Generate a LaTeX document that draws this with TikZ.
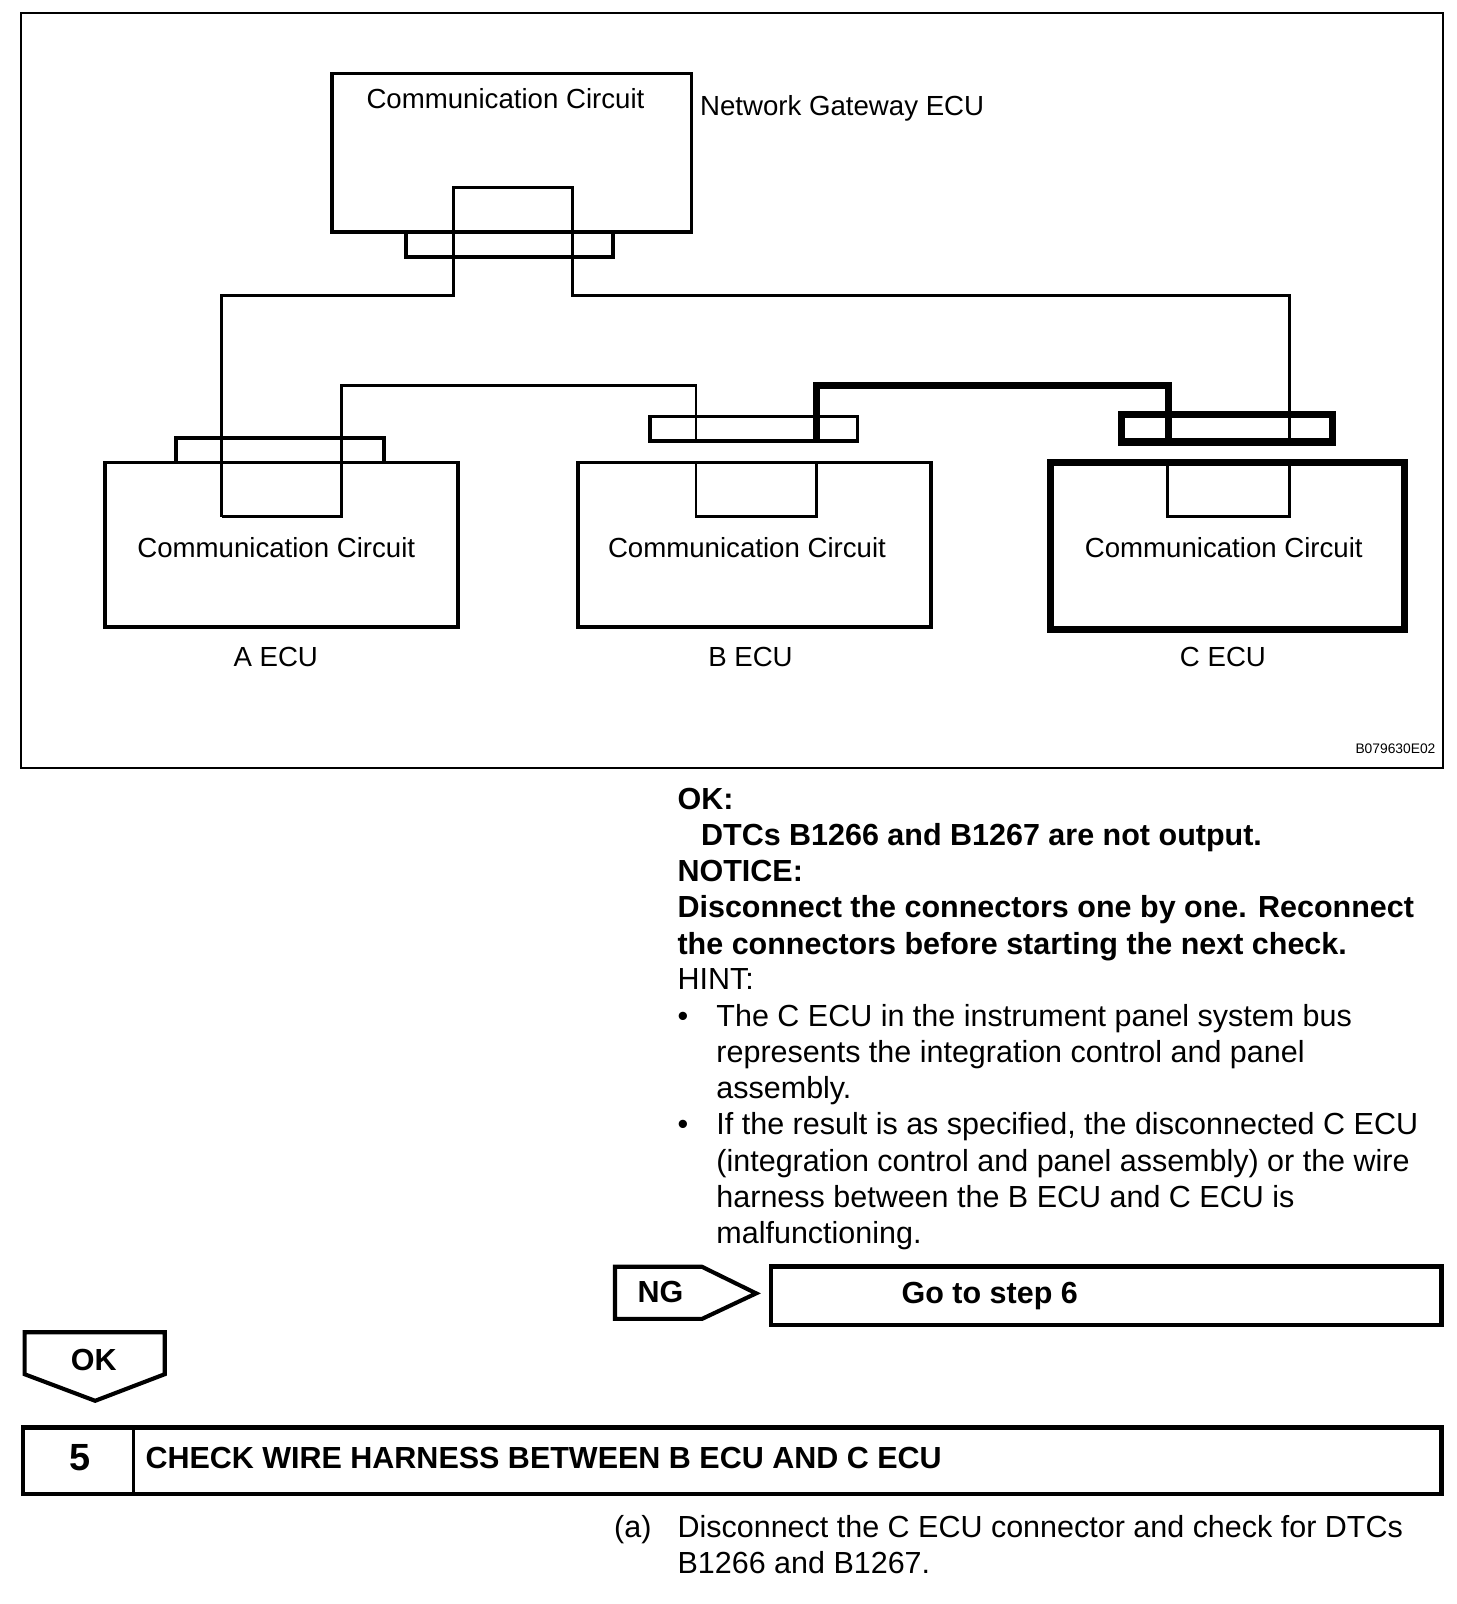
\documentclass[tikz,border=0pt]{standalone}
\usepackage{fontspec}
\setmainfont{Liberation Sans}
\newcommand{\fsz}[1]{\fontsize{#1}{#1}\selectfont}
\tikzset{
  x=1pt,y=-1pt,
  box/.style={draw=black,anchor=north west,inner sep=0pt,outer sep=0pt,line join=miter},
  thinbox/.style={box,line width=3.5pt},
  heavybox/.style={box,line width=7pt},
  wire/.style={draw=black,line width=2.5pt,line join=miter},
  heavywire/.style={draw=black,line width=7pt,line join=miter},
  diag/.style={font=\fsz{27},anchor=base west,inner sep=0pt},
  body/.style={font=\fsz{29.8},anchor=base west,inner sep=0pt},
  bodyb/.style={font=\fsz{29.8}\bfseries,anchor=base west,inner sep=0pt},
  tag/.style={draw=black,line width=4pt,line join=miter}
}
\begin{document}
\begin{tikzpicture}
\useasboundingbox (0,0) rectangle (1423,1567.6);
\fill[white] (0,0) rectangle (1423,1567.6);
% frame
\node[box,line width=2pt,minimum width=1389.5pt,minimum height=738pt] (frame) at (20.5,13) {};
% ECU boxes
\node[thinbox,minimum width=351.5pt,minimum height=155pt] (gw) at (324.5,72) {};
\node[thinbox,minimum width=345pt,minimum height=161pt] (aecu) at (102.5,452) {};
\node[thinbox,minimum width=345pt,minimum height=161pt] (becu) at (565,452) {};
\node[heavybox,minimum width=346pt,minimum height=163pt] (cecu) at (1027,452) {};
% connectors
\node[thinbox,minimum width=202pt,minimum height=24pt] (gwc) at (397,227) {};
\node[thinbox,minimum width=203pt,minimum height=24pt] (ac) at (172,428) {};
\node[thinbox,minimum width=203pt,minimum height=24pt] (bc) at (635,407) {};
\node[heavybox,minimum width=206pt,minimum height=27pt] (cc) at (1096,405) {};
% wire corners
\coordinate (a1) at (216.5,505);
\coordinate (a2) at (333.5,505);
\coordinate (b1) at (680,505);
\coordinate (b2) at (798,505);
\coordinate (c1) at (1141,505);
\coordinate (c2) at (1260,505);
\coordinate (g1) at (443,183);
\coordinate (g2) at (559.5,183);
% wires
\draw[wire] (a1) -- (216.5,289) -- (443,289) -- (g1) -- (g2) -- (559.5,289) -- (1260,289) -- (1260,432);
\draw[wire] (1260,452) -- (c2) -- (c1) -- (1141,452);
\draw[wire] (a1) -- (a2) -- (333.5,377) -- (680,377) -- (680,431);
\draw[wire] (680,452) -- (b1) -- (b2) -- (798,452);
\draw[heavywire] (798,431) -- (798,377) -- (1142,377) -- (1142,432);
% diagram labels
\node[diag] (t1) at (358,106.5) {Communication Circuit};
\node[diag] (t2) at (684,112.5) {Network Gateway ECU};
\node[diag] (t3) at (134,545) {Communication Circuit};
\node[diag] (t4) at (594,545) {Communication Circuit};
\node[diag] (t5) at (1060,545) {Communication Circuit};
\node[diag] (t6) at (228,651) {A ECU};
\node[diag] (t7) at (692,651) {B ECU};
\node[diag] (t8) at (1153,651) {C ECU};
\node[font=\fsz{13.5},anchor=base east,inner sep=0pt] (code) at (1403,736) {B079630E02};
% body text
\node[bodyb] (l1) at (662,791) {OK:};
\node[bodyb] (l2) at (685,826) {DTCs B1266 and B1267 are not output.};
\node[bodyb] (l3) at (662,861) {NOTICE:};
\node[bodyb] (l4) at (662,897) {Disconnect the connectors one by one. Reconnect};
\node[bodyb] (l5) at (662,932.5) {the connectors before starting the next check.};
\node[body] (l6) at (662,967.5) {HINT:};
\node[body] (b1t) at (662,1003) {•};
\node[body] (l7) at (700,1003) {The C ECU in the instrument panel system bus};
\node[body] (l8) at (700,1038) {represents the integration control and panel};
\node[body] (l9) at (700,1074) {assembly.};
\node[body] (b2t) at (662,1109) {•};
\node[body] (l10) at (700,1109) {If the result is as specified, the disconnected C ECU};
\node[body] (l11) at (700,1144.5) {(integration control and panel assembly) or the wire};
\node[body] (l12) at (700,1180) {harness between the B ECU and C ECU is};
\node[body] (l13) at (700,1215) {malfunctioning.};
% NG tag and target
\draw[tag] (601,1238) -- (686,1238) -- (739,1264) -- (686,1289) -- (601,1289) -- cycle;
\node[bodyb] (ng) at (623,1273) {NG};
\node[box,line width=4.5pt,minimum width=655.5pt,minimum height=57pt] (go) at (753.5,1238) {};
\node[bodyb] (gt) at (881,1274) {Go to step 6};
% OK tag
\draw[tag] (24,1302) -- (161,1302) -- (161,1343) -- (93,1369) -- (24,1343) -- cycle;
\node[bodyb] (oktag) at (69,1339) {OK};
% step bar
\node[box,line width=4.5pt,minimum width=1386.5pt,minimum height=65pt] (bar) at (22.5,1395) {};
\draw[line width=2.5pt] (bar.north west -| 130.5,0) -- (bar.south west -| 130.5,0);
\node[font=\fsz{37}\bfseries,anchor=base west,inner sep=0pt] (num) at (68,1437) {5};
\node[bodyb] (head) at (142,1435) {CHECK WIRE HARNESS BETWEEN B ECU AND C ECU};
% step text
\node[body] (s0) at (600,1502.5) {(a)};
\node[body] (s1) at (662,1502.5) {Disconnect the C ECU connector and check for DTCs};
\node[body] (s2) at (662,1537.5) {B1266 and B1267.};
\end{tikzpicture}
\end{document}
